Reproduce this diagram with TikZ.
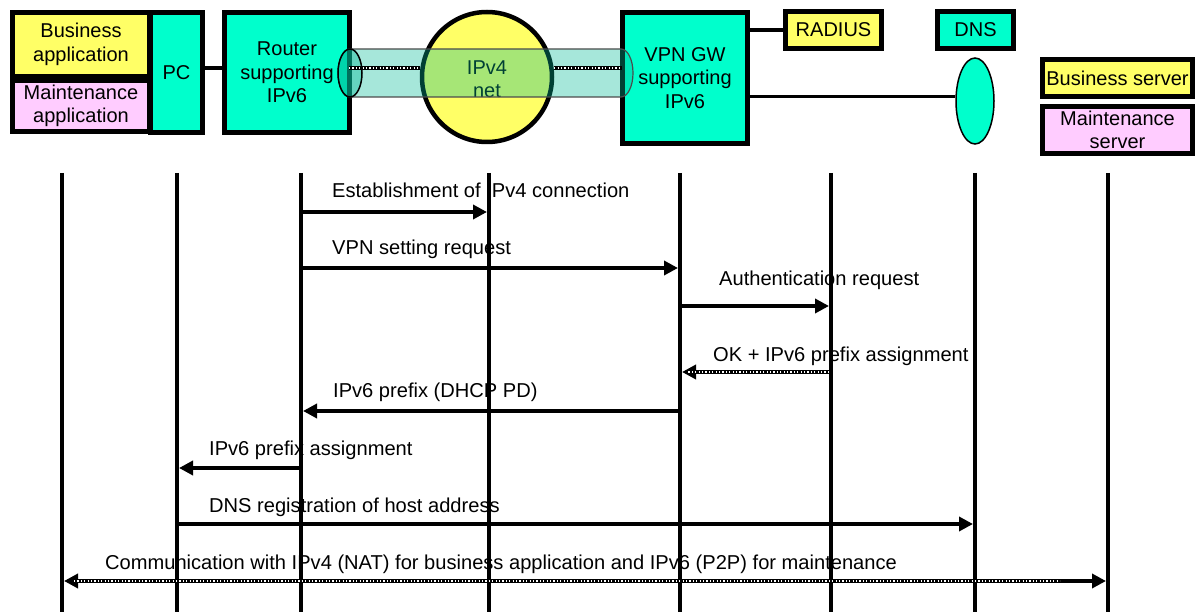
\documentclass[tikz,border=0pt]{standalone}
\usepackage{fontspec}
\setmainfont{Liberation Sans}
\usetikzlibrary{arrows.meta,shapes.geometric}
\definecolor{ylw}{RGB}{255,255,102}
\definecolor{pnk}{RGB}{255,204,255}
\definecolor{cyn}{RGB}{0,255,204}
\definecolor{tun}{RGB}{0,185,150}
\begin{document}
\begin{tikzpicture}[x=1pt,y=-1pt,
  box/.style={draw=black, line width=5pt, inner sep=0pt, align=center, font=\fontsize{20}{23.5}\selectfont},
  lbl/.style={anchor=base west, inner sep=0pt, font=\fontsize{20.1}{23.5}\selectfont},
  life/.style={line width=4.5pt},
  msg/.style={line width=4.5pt, -{Triangle[length=14pt,width=14pt]}},
  dmsg/.style={line width=4.5pt, {Triangle[length=14pt,width=14pt]}-{Triangle[length=14pt,width=14pt]}},
  wdots/.style={white, line width=1.2pt, dash pattern=on 1.2pt off 2.2pt},
  link/.style={line width=4.5pt},
]
\useasboundingbox (0,0) rectangle (1195,612);

% ---------- top: equipment ----------
\node[box, fill=ylw, minimum width=137pt, minimum height=64pt] (bizapp) at (81,44.5) {Business\\application};
\node[box, fill=pnk, minimum width=137pt, minimum height=51pt] (mntapp) at (81,106) {Maintenance\\application};
\node[box, fill=cyn, minimum width=52pt, minimum height=120pt] (pc) at (176.5,72.5) {PC};
\node[box, fill=cyn, minimum width=125pt, minimum height=120pt] (router) at (287,72.5) {Router\\supporting\\IPv6};
\node[box, fill=cyn, minimum width=125pt, minimum height=131pt] (gw) at (685,78) {VPN GW\\supporting\\IPv6};
\node[box, fill=ylw, minimum width=96pt, minimum height=37pt] (radius) at (833.5,30) {RADIUS};
\node[box, fill=cyn, minimum width=76pt, minimum height=37pt] (dns) at (975.5,30) {DNS};
\node[box, fill=ylw, minimum width=150pt, minimum height=37pt] (bizsrv) at (1117.5,78) {Business server};
\node[box, fill=pnk, minimum width=150pt, minimum height=47pt] (mntsrv) at (1117.5,130) {Maintenance\\server};
\node[ellipse, draw=black, line width=1.5pt, fill=cyn, minimum width=38pt, minimum height=86pt, inner sep=0pt] (dnsdb) at (975,101) {};

% IPv4 net
\node[circle, draw=black, line width=4.5pt, fill=ylw, minimum size=130pt, inner sep=0pt] (net) at (487,77) {};
\node[align=center, inner sep=0pt, font=\fontsize{20}{23.5}\selectfont] (nettxt) at (487,79) {IPv4\\net};

% links
\draw[link] (pc.east |- 0,68) -- (router.west |- 0,68);
\draw[link] (gw.east |- radius.west) -- (radius.west);
\draw[line width=3pt] (gw.east |- 0,97) -- (dnsdb.west |- 0,97);

% tunnel
\path[fill=tun, fill opacity=0.35, draw=black!70, line width=1.2pt]
  (350,49) -- (621,49) arc[start angle=-90, end angle=90, x radius=12, y radius=24]
  -- (350,97) arc[start angle=90, end angle=270, x radius=12, y radius=24] -- cycle;
\draw[black, line width=1.5pt, fill=tun, fill opacity=0.4] (350,73) ellipse [x radius=12, y radius=24];
\coordinate (tl1) at (349,68);
\coordinate (tl2) at (net.west |- 0,68);
\coordinate (tl3) at (net.east |- 0,68);
\coordinate (tl4) at (622,68);
\draw[line width=4pt] (tl1) -- (tl2);
\draw[line width=4pt] (tl3) -- (tl4);
\draw[wdots] (tl1) -- (tl2);
\draw[wdots] (tl3) -- (tl4);

% ---------- message labels ----------
\node[lbl] (t1) at (332,198) {Establishment of IPv4 connection};
\node[lbl] (t2) at (332,255) {VPN setting request};
\node[lbl] (t3) at (719,286) {Authentication request};
\node[lbl] (t4) at (713,362) {OK + IPv6 prefix assignment};
\node[lbl] (t5) at (333,398) {IPv6 prefix (DHCP PD)};
\node[lbl] (t6) at (209,456) {IPv6 prefix assignment};
\node[lbl] (t7) at (209,512) {DNS registration of host address};
\node[lbl] (t8) at (105,569) {Communication with IPv4 (NAT) for business application and IPv6 (P2P) for maintenance};

% ---------- lifelines ----------
\foreach \n/\x in {1/62,2/177,3/301,4/489,5/680,6/831,7/975,8/1108}{
  \coordinate (lt\n) at (\x,173);
  \coordinate (lb\n) at (\x,612);
  \draw[life] (lt\n) -- (lb\n);
}

% ---------- messages ----------
\coordinate (m1a) at (301,212);  \coordinate (m1b) at (487,212);
\coordinate (m2a) at (301,268);  \coordinate (m2b) at (678,268);
\coordinate (m3a) at (680,306);  \coordinate (m3b) at (829,306);
\coordinate (m4a) at (831,372);  \coordinate (m4b) at (682,372);
\coordinate (m5a) at (680,411);  \coordinate (m5b) at (303,411);
\coordinate (m6a) at (301,468);  \coordinate (m6b) at (179,468);
\coordinate (m7a) at (177,524);  \coordinate (m7b) at (973,524);
\coordinate (m8a) at (64,581);   \coordinate (m8b) at (1106,581);
\coordinate (d4a) at (829,372);  \coordinate (d4b) at (688,372);
\coordinate (d8a) at (74,581);   \coordinate (d8b) at (1060,581);

\draw[msg] (m1a) -- (m1b);
\draw[msg] (m2a) -- (m2b);
\draw[msg] (m3a) -- (m3b);
\draw[msg] (m4a) -- (m4b);
\draw[wdots] (d4a) -- (d4b);
\draw[msg] (m5a) -- (m5b);
\draw[msg] (m6a) -- (m6b);
\draw[msg] (m7a) -- (m7b);
\draw[dmsg] (m8a) -- (m8b);
\draw[wdots] (d8a) -- (d8b);
\end{tikzpicture}
\end{document}
